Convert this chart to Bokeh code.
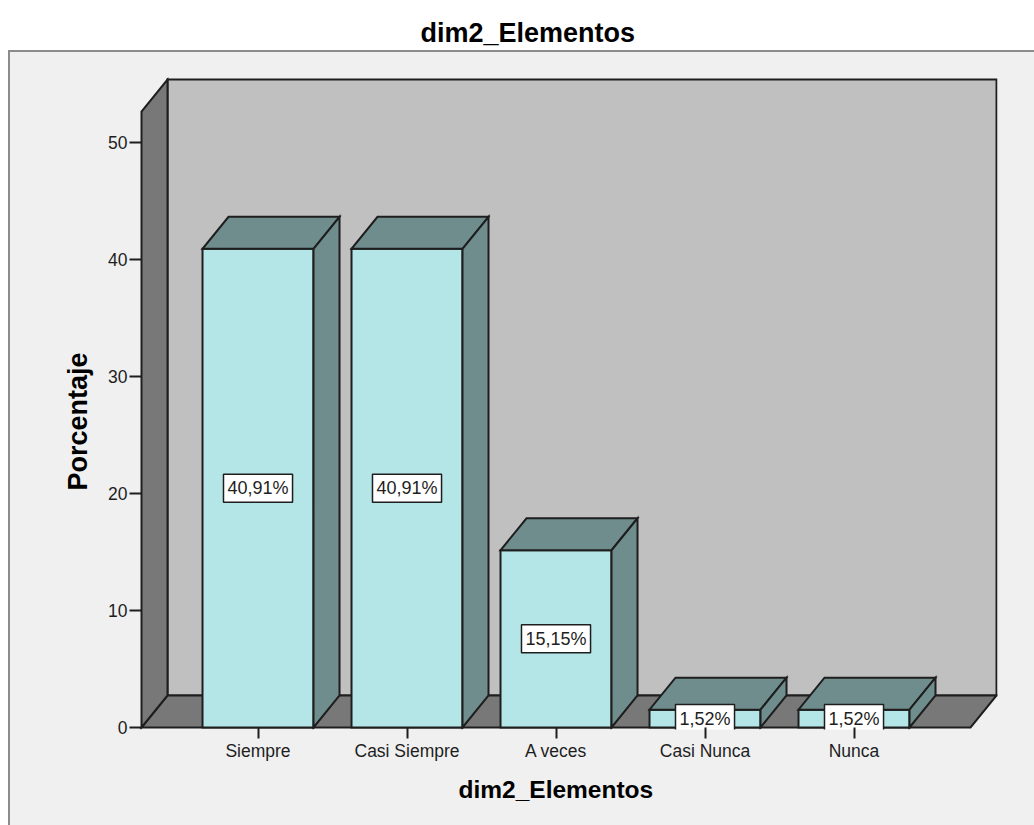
from bokeh.plotting import figure
from bokeh.models import Range1d, FixedTicker, Title, LinearAxis
from bokeh.core.properties import value
from bokeh.embed import file_html
from bokeh.resources import INLINE

# ---- data ----
categories = ["Siempre", "Casi Siempre", "A veces", "Casi Nunca", "Nunca"]
percentages = [40.91, 40.91, 15.15, 1.52, 1.52]
y_ticks = [0, 10, 20, 30, 40, 50]
chart_title = "dim2_Elementos"
x_title = "dim2_Elementos"
y_title = "Porcentaje"

# ---- layout (pixels) ----
W, H = 1034, 825
FRAME_L, FRAME_R, FRAME_T, FRAME_B = 139, 997, 77, 729
PANEL_L, PANEL_T = 9, 51      # corner of the outer grey panel
PX_CAT = 149.0          # pixels per category step
PX_PCT = 11.7           # pixels per percentage point
DEPTH_X, DEPTH_Y = 26.0, 32.0   # 3-D depth offset
BAR_W = 111.0 / PX_CAT  # bar width in category units
FLOOR_MARGIN = 0.782    # floor overhang beyond the outer bar centres
EDGE_PAD = 2.0          # room between frame edge and the box edges
TITLE_GAP = 29          # empty band between the title and the frame

FONT = "Liberation Sans"
INK = "#1e1e1e"
C_FRONT = "#B4E6E8"
C_SHADE = "#6F8D8D"
C_WALL = "#C0C0C0"
C_FLOOR = "#787878"
C_BG = "#F0F0F0"
C_PANEL_EDGE = "#8c8c8c"

n = len(categories)
x0 = -FLOOR_MARGIN
x1 = (n - 1) + FLOOR_MARGIN
x_start = x0 - EDGE_PAD / PX_CAT
x_end = x_start + (FRAME_R - FRAME_L) / PX_CAT
y_start = -EDGE_PAD / PX_PCT
y_end = y_start + (FRAME_B - FRAME_T) / PX_PCT
wall_top = y_end - EDGE_PAD / PX_PCT
dxu = DEPTH_X / PX_CAT
dyu = DEPTH_Y / PX_PCT

# grey panel with a thin edge, set in from the top-left of the page
panel_css = (
    f"linear-gradient({C_PANEL_EDGE},{C_PANEL_EDGE}) {PANEL_L - 1}px {PANEL_T - 1}px / 100% 2px no-repeat, "
    f"linear-gradient({C_PANEL_EDGE},{C_PANEL_EDGE}) {PANEL_L - 1}px {PANEL_T - 1}px / 2px 100% no-repeat, "
    f"linear-gradient({C_BG},{C_BG}) {PANEL_L}px {PANEL_T}px / 100% 100% no-repeat, "
    "#ffffff"
)

p = figure(
    width=W, height=H, title=None,
    x_range=Range1d(x_start, x_end), y_range=Range1d(y_start, y_end),
    output_backend="svg", toolbar_location=None,
    min_border_left=FRAME_L, min_border_right=W - FRAME_R,
    min_border_top=FRAME_T, min_border_bottom=H - FRAME_B,
    background_fill_color=C_BG, border_fill_color=None,
    outline_line_color=None,
    styles={"background": panel_css},
)
p.grid.visible = False

edge = dict(line_color=INK, line_width=2, line_join="miter")

# back wall, floor and left wall of the 3-D box
p.quad(left=[x0 + dxu], right=[x1 + dxu], bottom=[dyu], top=[wall_top], fill_color=C_WALL, **edge)
p.patch([x0, x1, x1 + dxu, x0 + dxu], [0, 0, dyu, dyu], fill_color=C_FLOOR, **edge)
p.patch([x0, x0, x0 + dxu, x0 + dxu], [0, wall_top - dyu, wall_top, dyu], fill_color=C_FLOOR, **edge)

# bars
for i, v in enumerate(percentages):
    xl, xr = i - BAR_W / 2, i + BAR_W / 2
    p.quad(left=[xl], right=[xr], bottom=[0], top=[v], fill_color=C_FRONT, **edge)
    p.patch([xl, xr, xr + dxu, xl + dxu], [v, v, v + dyu, v + dyu], fill_color=C_SHADE, **edge)
    p.patch([xr, xr + dxu, xr + dxu, xr], [0, dyu, v + dyu, v], fill_color=C_SHADE, **edge)

# value labels in the middle of each bar
labels = [f"{v:.2f}".replace(".", ",") + "%" for v in percentages]
p.text(
    x=list(range(n)), y=[v / 2 for v in percentages], text=labels,
    text_font=value(FONT), text_font_size="18px", text_color=INK,
    text_align="center", text_baseline="middle",
    background_fill_color="white", border_line_color=INK, border_line_width=1.5,
    padding=4,
)

# axes
xa = p.xaxis[0]
xa.ticker = FixedTicker(ticks=list(range(n)))
xa.major_label_overrides = {i: c for i, c in enumerate(categories)}
xa.axis_line_color = None
xa.minor_tick_line_color = None
xa.major_tick_out = 9
xa.major_tick_in = 2
xa.major_tick_line_color = INK
xa.major_tick_line_width = 2
xa.major_label_standoff = 2
xa.major_label_text_font = FONT
xa.major_label_text_font_size = "17.5px"
xa.major_label_text_color = INK

ya = p.yaxis[0]
ya.ticker = FixedTicker(ticks=y_ticks)
ya.axis_line_color = None
ya.minor_tick_line_color = None
ya.major_tick_out = 10
ya.major_tick_in = 2
ya.major_tick_line_color = INK
ya.major_tick_line_width = 2
ya.major_label_standoff = 2
ya.major_label_text_font = FONT
ya.major_label_text_font_size = "17.5px"
ya.major_label_text_color = INK

# blank band above the frame that lifts the chart title clear of the box
spacer = LinearAxis(
    ticker=FixedTicker(ticks=[x_end]), major_label_overrides={x_end: ""},
    axis_line_color=None, minor_tick_line_color=None,
    major_tick_line_color=C_BG, major_tick_line_alpha=0.01,
    major_tick_out=TITLE_GAP, major_tick_in=0, minor_tick_out=0,
    major_label_standoff=0, major_label_text_font_size="1px",
)
p.add_layout(spacer, "above")

# chart title
p.add_layout(Title(
    text=chart_title, align="left", offset=281, vertical_align="bottom", standoff=2,
    text_font=FONT, text_font_size="27px", text_font_style="bold", text_color="black",
), "above")

# axis titles, centred on the box edges rather than on the frame
p.add_layout(Title(
    text=x_title, align="left", offset=319, vertical_align="top", standoff=24,
    text_font=FONT, text_font_size="24.5px", text_font_style="bold", text_color="black",
), "below")
p.add_layout(Title(
    text=y_title, align="left", offset=239, standoff=26,
    text_font=FONT, text_font_size="27px", text_font_style="bold", text_color="black",
), "left")

open("out.html", "w").write(file_html(p, INLINE))
